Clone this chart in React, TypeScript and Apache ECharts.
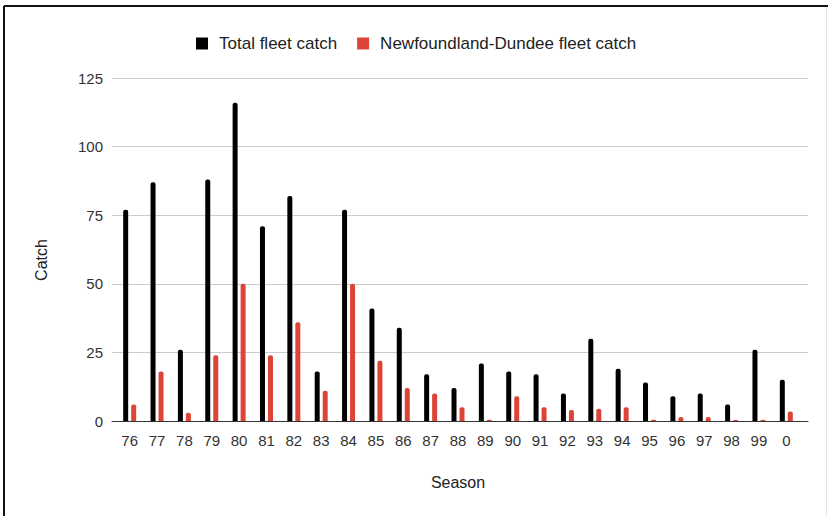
import React, { useEffect, useRef } from "react";
import * as echarts from "echarts";

const seasons = ["76","77","78","79","80","81","82","83","84","85","86","87","88","89","90","91","92","93","94","95","96","97","98","99","0"];
const totalCatch = [77,87,26,88,116,71,82,18,77,41,34,17,12,21,18,17,10,30,19,14,9,10,6,26,15];
const ndCatch = [6,18,3,24,50,24,36,11,50,22,12,10,5,0.5,9,5,4,4.5,5,0.5,1.5,1.5,0.4,0.5,3.5];
const yTicks = [0, 25, 50, 75, 100, 125];
const seriesNames = ["Total fleet catch", "Newfoundland-Dundee fleet catch"];

const FONT = "'Liberation Sans', Arial, sans-serif";

export default function App() {
  const ref = useRef<HTMLDivElement>(null);
  useEffect(() => {
    if (!ref.current) return;
    const chart = echarts.init(ref.current, undefined, { renderer: "svg" });
    const yMax = yTicks[yTicks.length - 1];
    const yInt = yTicks[1] - yTicks[0];
    chart.setOption({
      animation: false,
      backgroundColor: "#ffffff",
      textStyle: { fontFamily: FONT },
      legend: {
        left: 191,
        top: 30,
        itemWidth: 12,
        itemHeight: 12,
        itemGap: 20,
        icon: "rect",
        textStyle: { fontSize: 17, color: "#222", fontFamily: FONT, padding: [0, 0, 0, 6] },
        data: seriesNames,
      },
      grid: [
        { left: 116, right: 28, top: 78, bottom: 95 },
        { left: 112, right: 20, top: 78, bottom: 95 },
      ],
      xAxis: [
        {
          type: "category",
          gridIndex: 0,
          data: seasons,
          axisLine: { show: false },
          axisTick: { show: false },
          axisLabel: { margin: 12, fontSize: 15, color: "#333", fontFamily: FONT, interval: 0 },
          name: "Season",
          nameLocation: "middle",
          nameGap: 53,
          nameTextStyle: { fontSize: 16, color: "#222", fontFamily: FONT },
        },
        {
          type: "category",
          gridIndex: 1,
          data: [""],
          axisLine: { show: true, lineStyle: { color: "#333", width: 1 } },
          axisTick: { show: false },
          axisLabel: { show: false },
        },
      ],
      yAxis: [
        {
          type: "value",
          gridIndex: 0,
          min: 0,
          max: yMax,
          interval: yInt,
          axisLine: { show: false },
          axisTick: { show: false },
          splitLine: { show: false },
          axisLabel: { margin: 13, fontSize: 15, color: "#333", fontFamily: FONT },
        },
        {
          type: "value",
          gridIndex: 1,
          min: 0,
          max: yMax,
          interval: yInt,
          axisLine: { show: false },
          axisTick: { show: false },
          axisLabel: { show: false },
          splitLine: { show: true, lineStyle: { color: "#cccccc", width: 1 } },
        },
      ],
      series: [
        {
          name: seriesNames[0],
          type: "bar",
          xAxisIndex: 0,
          yAxisIndex: 0,
          data: totalCatch,
          barWidth: 5,
          barGap: "60%",
          itemStyle: { color: "#000000", borderRadius: [2, 2, 0, 0] },
        },
        {
          name: seriesNames[1],
          type: "bar",
          xAxisIndex: 0,
          yAxisIndex: 0,
          data: ndCatch,
          barWidth: 5,
          barGap: "60%",
          itemStyle: { color: "#db4437", borderRadius: [2, 2, 0, 0] },
        },
      ],
      graphic: [
        {
          type: "text",
          x: 41,
          y: 260,
          rotation: Math.PI / 2,
          style: {
            text: "Catch",
            font: `16px ${FONT}`,
            fill: "#222",
            textAlign: "center",
            textVerticalAlign: "middle",
          },
        },
        {
          type: "line",
          shape: { x1: 4, y1: 6, x2: 828, y2: 6 },
          style: { stroke: "#111", lineWidth: 2 },
        },
        {
          type: "line",
          shape: { x1: 4, y1: 6, x2: 4, y2: 516 },
          style: { stroke: "#111", lineWidth: 2 },
        },
        {
          type: "line",
          shape: { x1: 826.5, y1: 7, x2: 826.5, y2: 516 },
          style: { stroke: "#e4e4e4", lineWidth: 1 },
        },
      ],
    });
    return () => chart.dispose();
  }, []);
  return (
    <div
      ref={ref}
      style={{ position: "fixed", left: 0, top: 0, width: 828, height: 516 }}
    />
  );
}
